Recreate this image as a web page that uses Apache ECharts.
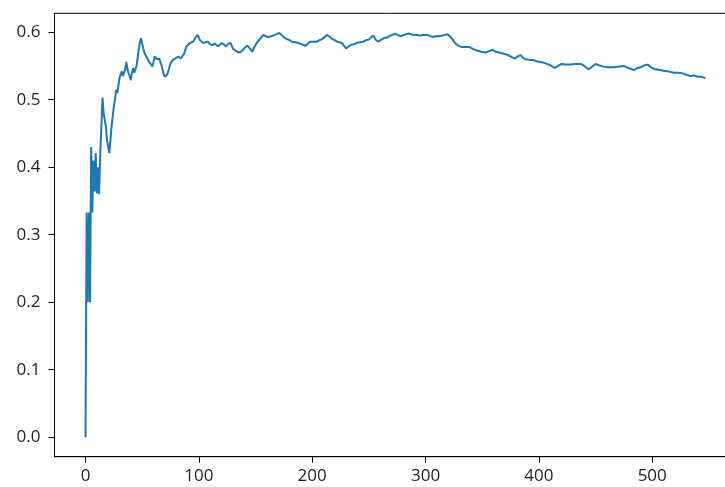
<!DOCTYPE html>
<html>
<head>
<meta charset="utf-8">
<script src="https://cdn.jsdelivr.net/npm/echarts@6/dist/echarts.min.js"></script>
<style>
html,body{margin:0;padding:0;background:#fff;}
#chart{width:725px;height:487px;}
</style>
</head>
<body>
<div id="chart"></div>
<script>
// Values (game index vs running value)
const xs = [0,1,2,3,4,5,6,7,8,9,10,11,12,13,14,15,16,17,18,19,20,21,22,23,24,25,26,27,28,29,30,31,32,33,34,35,36,37,38,39,40,41,42,43,44,45,46,47,48,49,50,51,52,53,54,55,56,57,58,59,60,61,62,63,64,65,66,67,68,69,70,71,72,73,74,75,76,77,78,79,80,82,84,85,87,89,92,95,97,99,101,104,106,108,110,112,114,117,120,122,124,126,128,130,132,135,137,139,141,143,145,147,149,151,154,157,159,161,164,167,171,173,176,179,182,185,188,191,194,196,198,201,204,206,208,211,213,215,217,219,222,224,226,228,230,232,234,237,239,242,245,247,250,252,254,256,258,260,263,266,269,271,273,275,278,281,285,287,289,292,295,298,301,303,306,309,312,315,317,319,321,324,326,329,332,336,339,342,345,349,353,356,359,362,365,369,373,376,379,381,384,386,388,392,395,398,401,404,407,410,414,417,420,424,428,432,437,440,444,447,450,453,457,461,466,470,475,479,484,487,490,493,496,499,503,507,510,514,519,523,527,530,534,537,540,543,547];
const ys = [0,0.333,0.2,0.333,0.2,0.43,0.333,0.41,0.364,0.421,0.361,0.4,0.36,0.42,0.46,0.503,0.48,0.47,0.46,0.44,0.43,0.421,0.44,0.46,0.475,0.49,0.5,0.515,0.51,0.52,0.532,0.53,0.542,0.535,0.537,0.545,0.556,0.545,0.539,0.535,0.529,0.54,0.547,0.54,0.542,0.55,0.562,0.575,0.585,0.591,0.583,0.576,0.57,0.566,0.564,0.56,0.556,0.558,0.552,0.549,0.556,0.564,0.563,0.56,0.562,0.561,0.556,0.551,0.545,0.538,0.534,0.533,0.537,0.542,0.548,0.554,0.556,0.559,0.561,0.561,0.563,0.564,0.561,0.559,0.568,0.579,0.584,0.586,0.592,0.596,0.588,0.584,0.585,0.586,0.582,0.581,0.583,0.579,0.584,0.582,0.579,0.583,0.584,0.576,0.573,0.57,0.571,0.574,0.578,0.58,0.576,0.571,0.578,0.584,0.59,0.596,0.594,0.593,0.594,0.596,0.599,0.596,0.591,0.589,0.586,0.585,0.584,0.582,0.58,0.583,0.586,0.586,0.586,0.588,0.589,0.593,0.596,0.594,0.591,0.589,0.586,0.585,0.584,0.58,0.576,0.579,0.581,0.582,0.584,0.585,0.586,0.588,0.589,0.592,0.595,0.589,0.586,0.588,0.591,0.592,0.595,0.596,0.598,0.596,0.594,0.596,0.598,0.597,0.596,0.596,0.595,0.596,0.596,0.595,0.593,0.594,0.594,0.595,0.596,0.597,0.595,0.589,0.584,0.58,0.578,0.578,0.578,0.575,0.573,0.571,0.57,0.572,0.574,0.571,0.57,0.568,0.566,0.563,0.561,0.564,0.566,0.562,0.56,0.559,0.559,0.557,0.556,0.555,0.553,0.551,0.547,0.55,0.553,0.552,0.552,0.553,0.553,0.55,0.545,0.549,0.553,0.551,0.549,0.548,0.548,0.549,0.55,0.547,0.544,0.547,0.548,0.551,0.552,0.548,0.545,0.544,0.543,0.542,0.54,0.54,0.539,0.537,0.535,0.536,0.534,0.534,0.532];
const xTicks = [0,100,200,300,400,500];
const yTicks = [0.0,0.1,0.2,0.3,0.4,0.5,0.6];

const data = xs.map((x, i) => [x, ys[i]]);
const font = 'Open Sans';
const chart = echarts.init(document.getElementById('chart'), null, {renderer: 'canvas'});
chart.setOption({
  animation: false,
  backgroundColor: '#ffffff',
  grid: {
    left: 54.5, top: 13.3, width: 682, height: 443.4,
    show: true, borderColor: '#000', borderWidth: 1, backgroundColor: 'transparent',
    outerBoundsMode: 'none'
  },
  xAxis: {
    type: 'value', min: -27.35, max: 574.35,
    splitLine: {show: false},
    axisLine: {show: true, onZero: false, lineStyle: {color: '#000', width: 1}},
    axisTick: {show: true, length: 6, lineStyle: {color: '#000', width: 1}, customValues: xTicks},
    axisLabel: {show: true, customValues: xTicks, color: '#222', fontFamily: font, fontSize: 17, margin: 11,
      formatter: v => String(Math.round(v))}
  },
  yAxis: {
    type: 'value', min: -0.0288, max: 0.628,
    splitLine: {show: false},
    axisLine: {show: true, onZero: false, lineStyle: {color: '#000', width: 1}},
    axisTick: {show: true, length: 6, lineStyle: {color: '#000', width: 1}, customValues: yTicks},
    axisLabel: {show: true, customValues: yTicks, color: '#222', fontFamily: font, fontSize: 17, margin: 14,
      formatter: v => v.toFixed(1)}
  },
  series: [{
    type: 'line', data: data, showSymbol: false, symbol: 'none',
    lineStyle: {color: '#1f77b4', width: 2}, clip: true
  }]
});
</script>
</body>
</html>
